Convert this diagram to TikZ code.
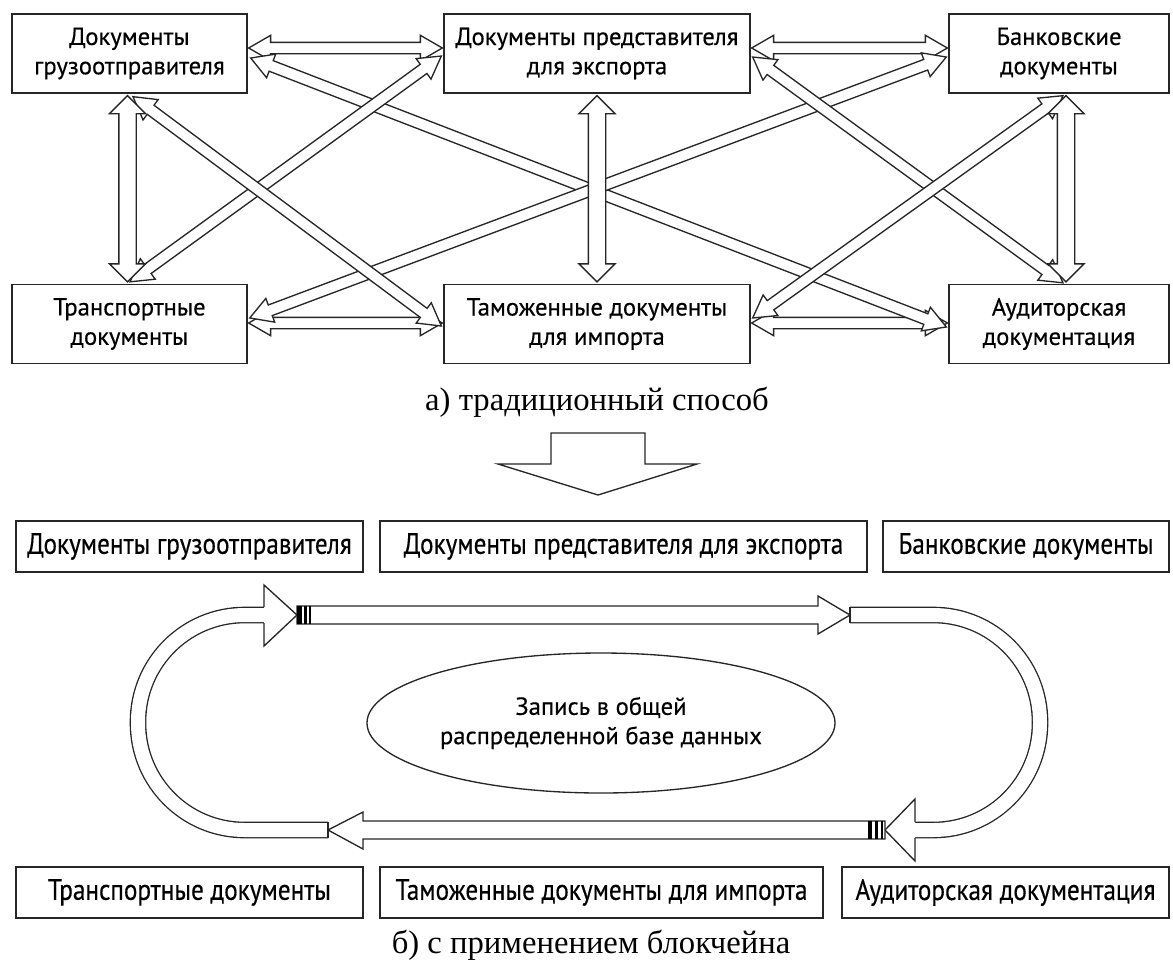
\documentclass[tikz,border=0pt]{standalone}
\usepackage{fontspec}
\setmainfont{Liberation Serif}
\newfontfamily\boxfont[FakeBold=0.4]{PT Sans}
\newfontfamily\narrowfont[FakeStretch=0.86, FakeBold=0.4]{PT Sans}
\usetikzlibrary{shapes.geometric, shapes.arrows, calc}
\tikzset{
	x=0.75pt, y=-0.75pt, % one unit = one pixel of the scan, y grows downward
	docbox/.style={draw=black!85, line width=1pt, fill=white, align=center, inner sep=0pt, font=\boxfont\fontsize{18.5}{22}\selectfont}, % boxes of part a
	flatbox/.style={docbox, minimum height=38.25pt, font=\narrowfont\fontsize{22}{24}\selectfont}, % one-line boxes of part b
	thinarrow/.style={double arrow, draw=black!85, fill=white, line width=1pt, inner xsep=0pt, inner ysep=3.75pt, outer sep=0pt, double arrow head extend=5.25pt, double arrow tip angle=60},
	thickarrow/.style={thinarrow, inner ysep=6pt, double arrow head extend=7pt, double arrow tip angle=90},
	link/.style={to path={let \p1=(\tikztostart), \p2=(\tikztotarget), \n1={atan2(\y2-\y1,\x2-\x1)}, \n2={veclen(\x2-\x1,\y2-\y1)} in node[#1, minimum height=\n2, rotate=\n1] at ($(\p1)!0.5!(\p2)$) {} (\tikztotarget)}}, % hollow two-headed arrow between two points
	link/.default=thinarrow,
	cyclebar/.style={draw=black!85, line width=1pt, double=white, double distance=10.5pt, rounded corners=80pt},
	caption/.style={font=\fontsize{24.5}{28}\selectfont},
}
\begin{document}
\begin{tikzpicture}
	\useasboundingbox (0,0) rectangle (1173,971);

	% part a: every kind of document talks to every other
	\node[docbox, minimum width=176.25pt, minimum height=59.25pt] (ship) at (129.5,53.5) {Документы\\грузоотправителя};
	\node[docbox, minimum width=229.5pt, minimum height=59.25pt] (exp) at (597,53.5) {Документы представителя\\для экспорта};
	\node[docbox, minimum width=165pt, minimum height=59.25pt] (bank) at (1059,53.5) {Банковские\\документы};
	\node[docbox, minimum width=176.25pt, minimum height=59.25pt] (trans) at (129.5,324) {Транспортные\\документы};
	\node[docbox, minimum width=229.5pt, minimum height=59.25pt] (cust) at (597,324) {Таможенные документы\\для импорта};
	\node[docbox, minimum width=165pt, minimum height=59.25pt] (audit) at (1059,324) {Аудиторская\\документация};

	\path ([shift={(1,-5.5)}]ship.east) to[link] ([shift={(-1,-5.5)}]exp.west);
	\path ([shift={(1,-5.5)}]exp.east) to[link] ([shift={(-1,-5.5)}]bank.west);
	\path ([shift={(1,-1)}]trans.east) to[link] ([shift={(-1,-1)}]cust.west);
	\path ([shift={(1,-1)}]cust.east) to[link] ([shift={(-1,-1)}]audit.west);
	\path ([shift={(3,4.5)}]ship.east) to[link] ([shift={(-2,3)}]audit.west);
	\path ([shift={(2,-6)}]trans.east) to[link] ([shift={(-2,3.5)}]bank.west);
	\path ([shift={(0.5,-2)}]trans.north) to[link] ([shift={(-2,2.5)}]exp.west);
	\path ([shift={(3.5,3)}]ship.south) to[link] ([shift={(-2,2)}]cust.west);
	\path ([shift={(2,3.5)}]exp.east) to[link] ([shift={(4,-1)}]audit.north);
	\path ([shift={(2,-6)}]cust.east) to[link] ([shift={(4,2)}]bank.south);
	\path ([shift={(-2,2)}]ship.south) to[link=thickarrow] ([shift={(-2,-2)}]trans.north);
	\path ([shift={(0,2)}]exp.south) to[link=thickarrow] ([shift={(0,-2)}]cust.north);
	\path ([shift={(7,2)}]bank.south) to[link=thickarrow] ([shift={(7,-2)}]audit.north);

	\node[caption] (capa) at (597,402) {а) традиционный способ};

	% big arrow between the two parts
	\draw[draw=black!85, line width=1pt, fill=white] (551,433) -- (645,433) -- (645,464) -- (697,464) -- (598,495) -- (498,464) -- (551,464) -- cycle;

	% part b: one shared record
	\node[flatbox, minimum width=260.25pt] (ship2) at (189.5,546.5) {Документы грузоотправителя};
	\node[flatbox, minimum width=365.25pt] (exp2) at (623.5,546.5) {Документы представителя для экспорта};
	\node[flatbox, minimum width=214.5pt] (bank2) at (1026,546.5) {Банковские документы};
	\node[flatbox, minimum width=260.25pt] (trans2) at (189.5,892.5) {Транспортные документы};
	\node[flatbox, minimum width=332.25pt] (cust2) at (601.5,892.5) {Таможенные документы для импорта};
	\node[flatbox, minimum width=245.25pt] (audit2) at (1005.5,892.5) {Аудиторская документация};

	\node[ellipse, draw=black!85, line width=1pt, minimum width=346.5pt, minimum height=105pt, align=center, font=\boxfont\fontsize{18.5}{22}\selectfont] (ledger) at (601,723) {Запись в общей\\распределенной базе данных};

	% the ring round the record
	\coordinate (tl) at (297,615);
	\coordinate (tr) at (850,615);
	\coordinate (br) at (885,830);
	\coordinate (bl) at (328,830);

	\draw[cyclebar] (bl) -- (138,830) -- (138,615) -- (267,615);
	\draw[draw=black!85, line width=1pt] (328,822) -- (328,838);
	\draw[cyclebar] (tr) -- (1040,615) -- (1040,830) -- (912,830);
	\draw[draw=black!85, line width=1pt] (850,607) -- (850,623);

	\draw[draw=black!85, line width=1pt, fill=white] (264,607) -- (264,585) -- (tl) -- (264,646) -- (264,623);
	\draw[draw=black!85, line width=1pt, fill=white] (915,822) -- (915,799) -- (br) -- (915,861) -- (915,838);

	\draw[draw=black!85, line width=1pt, fill=white] (tl) ++(0,-9) -- (818,606) -- (818,596) -- (tr) -- (818,634) -- (818,624) -- (297,624) -- cycle;
	\draw[draw=black!85, line width=1pt, fill=white] (br) ++(0,-9) -- (363,821) -- (363,812) -- (bl) -- (363,849) -- (363,839) -- (885,839) -- cycle;

	\fill (297,606) rectangle (302,624);
	\fill (304,606) rectangle (307,624);
	\draw[line width=0.8pt] (310,606) -- (310,624);
	\fill (868,821) rectangle (872,839);
	\fill (875,821) rectangle (878,839);
	\draw[line width=0.8pt] (882,821) -- (882,839);

	\node[caption] (capb) at (591,945) {б) с применением блокчейна};
\end{tikzpicture}
\end{document}
